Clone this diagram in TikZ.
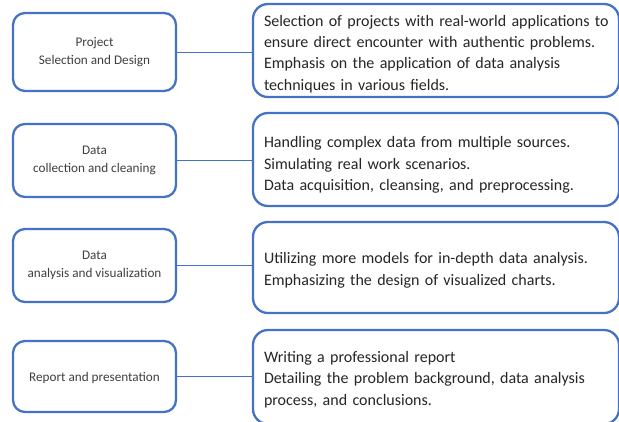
\documentclass[tikz,border=0pt]{standalone}
\usepackage{fontspec}
\setmainfont{Carlito}
\definecolor{bord}{HTML}{4472C4}
\definecolor{ltxt}{HTML}{404040}
\definecolor{rtxt}{HTML}{262626}
\begin{document}
\begin{tikzpicture}[x=1pt,y=-1pt,
  leftbox/.style={draw=bord, line width=2.3pt, rounded corners=12pt, fill=white,
    minimum width=163pt, inner sep=0pt, align=center, text=ltxt,
    font=\fontsize{13.2}{18}\selectfont, execute at begin node={\rule{0pt}{12.5pt}}},
  rightbox/.style={draw=bord, line width=2.3pt, rounded corners=15pt, fill=white,
    minimum width=366pt, text width=344pt, inner xsep=11pt, inner ysep=0pt, align=left, text=rtxt,
    font=\fontsize{16}{21.3}\selectfont, execute at begin node={\rule{0pt}{#1}}},
  rightbox/.default=18pt,
  conn/.style={draw=bord, line width=0.9pt}]
\useasboundingbox (0,0) rectangle (619,421);
\node[leftbox, minimum height=78pt] (l1) at (94.5,52) {Project\\Selection and Design};
\node[leftbox, minimum height=73pt] (l2) at (94.5,160.5) {Data\\collection and cleaning};
\node[leftbox, minimum height=73pt] (l3) at (94.5,265.5) {Data\\analysis and visualization};
\node[leftbox, minimum height=71pt] (l4) at (94.5,376.5) {Report and presentation};
\node[rightbox, minimum height=93pt] (r1) at (436,50.5) {\mbox{Selection of projects with real-world applications to}\\ensure direct encounter with authentic problems.\\Emphasis on the application of data analysis\\techniques in various fields.};
\node[rightbox=22pt, minimum height=93pt] (r2) at (436,159.5) {Handling complex data from multiple sources.\\Simulating real work scenarios.\\Data acquisition, cleansing, and preprocessing.};
\node[rightbox=17pt, minimum height=91pt] (r3) at (436,267.5) {\mbox{Utilizing more models for in-depth data analysis.}\\Emphasizing the design of visualized charts.};
\node[rightbox=16pt, minimum height=94pt] (r4) at (436,377) {Writing a professional report\\Detailing the problem background, data analysis\\process, and conclusions.};
\draw[conn] (l1.east) -- (l1.east -| r1.west);
\draw[conn] (l2.east) -- (l2.east -| r2.west);
\draw[conn] (l3.east) -- (l3.east -| r3.west);
\draw[conn] (l4.east) -- (l4.east -| r4.west);
\end{tikzpicture}
\end{document}
